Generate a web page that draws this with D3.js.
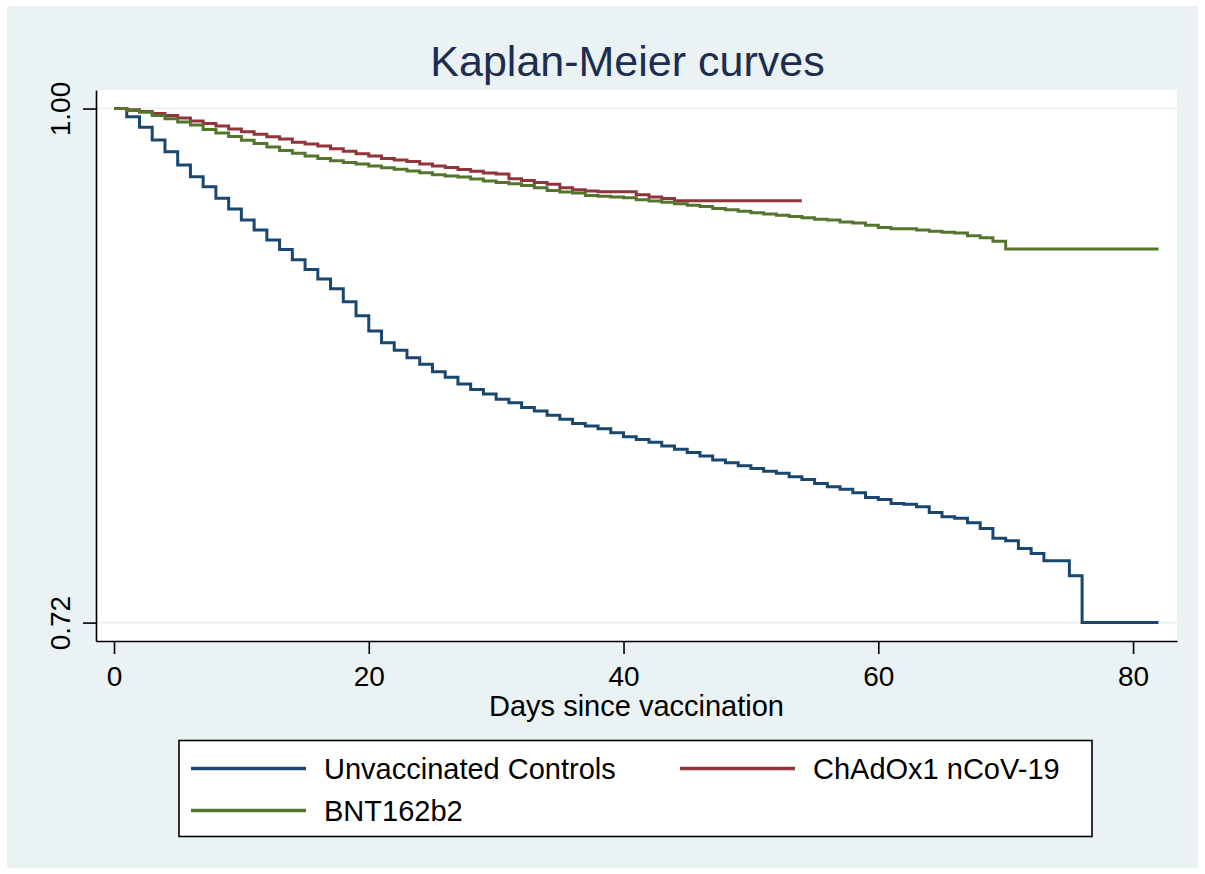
<!DOCTYPE html>
<html>
<head>
<meta charset="utf-8">
<script src="https://cdn.jsdelivr.net/npm/d3@7"></script>
<style>
  body { margin: 0; background: #fff; }
  svg { display: block; font-family: "Liberation Sans", Arial, sans-serif; }
</style>
</head>
<body>
<div id="chart"></div>
<script>
// Kaplan-Meier estimates: [day, survival]
const unvaccinated = [[0,1],[1,0.9955],[2,0.9898],[3,0.9828],[4,0.9765],[5,0.9692],[6,0.9628],[7,0.9574],[8,0.9511],[9,0.9453],[10,0.9393],[11,0.9338],[12,0.9284],[13,0.9232],[14,0.9177],[15,0.9123],[16,0.9072],[17,0.9018],[18,0.8948],[19,0.8871],[20,0.8788],[21,0.8724],[22,0.8684],[23,0.8642],[24,0.8607],[25,0.8566],[26,0.8536],[27,0.8499],[28,0.8470],[29,0.8445],[30,0.8417],[31,0.8397],[32,0.8372],[33,0.8353],[34,0.8329],[35,0.8307],[36,0.8285],[37,0.8271],[38,0.8256],[39,0.8234],[40,0.8212],[41,0.8198],[42,0.8182],[43,0.8162],[44,0.8144],[45,0.8127],[46,0.8107],[47,0.8085],[48,0.8071],[49,0.8054],[50,0.8040],[51,0.8025],[52,0.8013],[53,0.7994],[54,0.7980],[55,0.7958],[56,0.7940],[57,0.7927],[58,0.7907],[59,0.7882],[60,0.7871],[61,0.7849],[62,0.7844],[63,0.7831],[64,0.7800],[65,0.7776],[66,0.7768],[67,0.7744],[68,0.7713],[69,0.7659],[70,0.7646],[71,0.7604],[72,0.7577],[73,0.7537],[75,0.7455],[76,0.7200],[82,0.7200]];

const chadox = [[0,1],[1,0.9993],[2,0.9984],[3,0.9973],[4,0.9962],[5,0.9949],[6,0.9932],[7,0.9919],[8,0.9905],[9,0.9888],[10,0.9873],[11,0.9860],[12,0.9846],[13,0.9834],[14,0.9816],[15,0.9807],[16,0.9796],[17,0.9781],[18,0.9767],[19,0.9754],[20,0.9741],[21,0.9728],[22,0.9720],[23,0.9711],[24,0.9698],[25,0.9687],[26,0.9679],[27,0.9668],[28,0.9658],[29,0.9649],[30,0.9643],[31,0.9618],[32,0.9608],[33,0.9597],[34,0.9587],[35,0.9568],[36,0.9558],[37,0.9551],[38,0.9547],[41,0.9530],[42,0.9518],[43,0.9510],[44,0.9498],[54,0.9498]];

const bnt = [[0,1],[1,0.9990],[2,0.9980],[3,0.9962],[4,0.9944],[5,0.9927],[6,0.9910],[7,0.9886],[8,0.9867],[9,0.9848],[10,0.9827],[11,0.9809],[12,0.9790],[13,0.9771],[14,0.9757],[15,0.9741],[16,0.9728],[17,0.9716],[18,0.9706],[19,0.9698],[20,0.9687],[21,0.9677],[22,0.9669],[23,0.9660],[24,0.9650],[25,0.9640],[26,0.9633],[27,0.9627],[28,0.9616],[29,0.9605],[30,0.9597],[31,0.9590],[32,0.9581],[33,0.9568],[34,0.9554],[35,0.9545],[36,0.9540],[37,0.9527],[38,0.9522],[39,0.9518],[40,0.9514],[41,0.9503],[42,0.9496],[43,0.9489],[44,0.9481],[45,0.9473],[46,0.9467],[47,0.9455],[48,0.9449],[49,0.9440],[50,0.9432],[51,0.9425],[52,0.9419],[53,0.9412],[54,0.9405],[55,0.9397],[56,0.9393],[57,0.9382],[58,0.9377],[59,0.9365],[60,0.9352],[61,0.9345],[63,0.9338],[64,0.9332],[65,0.9326],[66,0.9322],[67,0.9307],[68,0.9296],[69,0.9277],[70,0.9235],[82,0.9235]];

const seriesNames = ['Unvaccinated Controls', 'ChAdOx1 nCoV-19', 'BNT162b2'];
const xTicks = [0, 20, 40, 60, 80];
const yTicks = [0.72, 1.00];

const colors = ['#1a476f', '#90353b', '#55752f'];
const series = [unvaccinated, chadox, bnt];

const svgWidth = 1205;
const svgHeight = 874;
const plot = { left: 96, right: 1177, top: 90, bottom: 641 };

const svg = d3.select('#chart')
    .append('svg')
    .attr('width', svgWidth)
    .attr('height', svgHeight);

// graph background
svg.append('rect')
    .attr('x', 7).attr('y', 6)
    .attr('width', 1191).attr('height', 862)
    .attr('fill', '#eaf2f3');

// plot region
svg.append('rect')
    .attr('x', plot.left).attr('y', plot.top)
    .attr('width', plot.right - plot.left)
    .attr('height', plot.bottom - plot.top)
    .attr('fill', '#fff');

// scales
const xScale = d3.scaleLinear()
    .domain([-1.413, 83.45])
    .range([plot.left, plot.right]);

const yScale = d3.scaleLinear()
    .domain([0.70998, 1.0101])
    .range([plot.bottom, plot.top]);

// gridlines
svg.selectAll('.grid')
    .data(yTicks)
    .enter()
    .append('line')
    .attr('x1', plot.left)
    .attr('x2', plot.right)
    .attr('y1', d => yScale(d))
    .attr('y2', d => yScale(d))
    .attr('stroke', '#eaf2f3')
    .attr('stroke-width', 2);

// curves
const line = d3.line()
    .x(d => xScale(d[0]))
    .y(d => yScale(d[1]))
    .curve(d3.curveStepAfter);

svg.selectAll('.km')
    .data(series)
    .enter()
    .append('path')
    .attr('d', d => line(d))
    .attr('fill', 'none')
    .attr('stroke', (d, i) => colors[i])
    .attr('stroke-width', 3)
    .attr('stroke-linejoin', 'miter');

// axes
const yAxis = svg.append('g')
    .attr('transform', `translate(${plot.left},0)`)
    .call(d3.axisLeft(yScale)
        .tickValues(yTicks)
        .tickFormat(d3.format('.2f'))
        .tickSize(13)
        .tickSizeOuter(0));

yAxis.selectAll('text')
    .attr('transform', 'rotate(-90)')
    .attr('x', 0)
    .attr('y', -26)
    .attr('dy', 0)
    .attr('text-anchor', 'middle')
    .style('font-size', '28px')
    .style('fill', '#000');

const xAxis = svg.append('g')
    .attr('transform', `translate(0,${plot.bottom})`)
    .call(d3.axisBottom(xScale)
        .tickValues(xTicks)
        .tickSize(13)
        .tickSizeOuter(0));

xAxis.selectAll('text')
    .attr('y', 45)
    .attr('dy', 0)
    .style('font-size', '28px')
    .style('fill', '#000');

svg.selectAll('.domain, .tick line')
    .attr('stroke', '#000')
    .attr('stroke-width', 1.6);

// titles
svg.append('text')
    .attr('x', 627.5)
    .attr('y', 76)
    .attr('text-anchor', 'middle')
    .style('font-size', '43px')
    .style('fill', '#1c2d50')
    .text('Kaplan-Meier curves');

svg.append('text')
    .attr('x', (plot.left + plot.right) / 2)
    .attr('y', 716)
    .attr('text-anchor', 'middle')
    .style('font-size', '29px')
    .style('fill', '#000')
    .text('Days since vaccination');

// legend
const legend = svg.append('g');
legend.append('rect')
    .attr('x', 179).attr('y', 740.5)
    .attr('width', 913).attr('height', 96)
    .attr('fill', '#fff')
    .attr('stroke', '#000')
    .attr('stroke-width', 1.6);

const legendPos = [[191, 768.5], [680, 768.5], [191, 810.5]];

const items = legend.selectAll('.item')
    .data(seriesNames)
    .enter()
    .append('g')
    .attr('transform', (d, i) => `translate(${legendPos[i][0]},${legendPos[i][1]})`);

items.append('line')
    .attr('x1', 0).attr('x2', 115)
    .attr('stroke', (d, i) => colors[i])
    .attr('stroke-width', 3.5);

items.append('text')
    .attr('x', 133)
    .attr('dy', '0.35em')
    .style('font-size', '29px')
    .style('fill', '#000')
    .text(d => d);
</script>
</body>
</html>
